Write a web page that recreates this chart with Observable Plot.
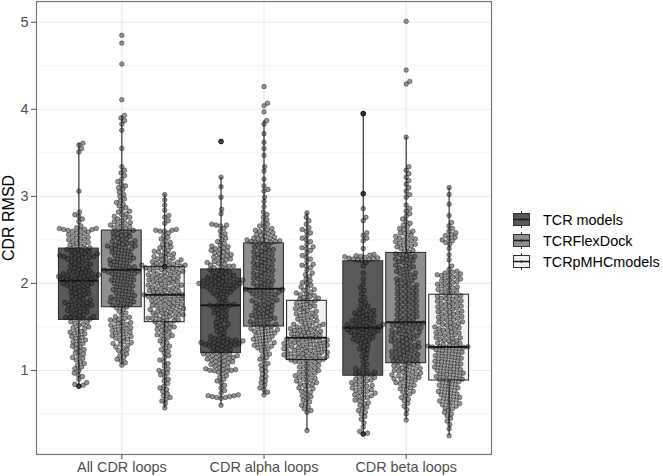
<!DOCTYPE html>
<html>
<head>
<meta charset="utf-8">
<script src="https://cdn.jsdelivr.net/npm/d3@7"></script>
<script src="https://cdn.jsdelivr.net/npm/@observablehq/plot@0.6"></script>
<style>
  html, body { margin: 0; padding: 0; background: #fff; }
  #wrap { position: relative; width: 663px; height: 476px; font-family: "Liberation Sans", Arial, sans-serif; }
  #ytitle { position: absolute; left: 9px; top: 218px; transform: translate(-50%, -50%) rotate(-90deg); font-size: 16px; color: #000; white-space: nowrap; }
  #legend { position: absolute; left: 512px; top: 209px; font-size: 14.4px; color: #000; }
  .lrow { display: flex; align-items: center; height: 21px; }
  .lrow svg { margin-right: 12px; }
</style>
</head>
<body>
<div id="wrap"><div id="ytitle">CDR RMSD</div><div id="legend"></div></div>
<script>
// ---------- data ----------
const groups = ["All CDR loops", "CDR alpha loops", "CDR beta loops"];
const seriesNames = ["TCR models", "TCRFlexDock", "TCRpMHCmodels"];
const yTicks = [1, 2, 3, 4, 5];
const yMinorTicks = [0.5, 1.5, 2.5, 3.5, 4.5];

// box statistics per group: [lower whisker, Q1, median, Q3, upper whisker]
const statsTcrModels   = [[0.82, 1.58, 2.03, 2.40, 3.61], [0.60, 1.20, 1.75, 2.16, 3.22], [0.27, 0.94, 1.49, 2.255, 3.95]];
const statsFlexDock    = [[1.06, 1.727, 2.156, 2.607, 3.93], [0.72, 1.505, 1.94, 2.46, 3.87], [0.43, 1.084, 1.555, 2.35, 3.68]];
const statsPMHCmodels  = [[0.567, 1.555, 1.87, 2.19, 3.02], [0.31, 1.12, 1.375, 1.80, 2.81], [0.25, 0.885, 1.27, 1.87, 3.10]];

// individual RMSD values (beeswarm points)
const allTcrModels = [3.61,3.59,3.55,3.51,3.06,2.82,2.79,2.77,2.74,2.71,2.66,2.64,2.63,2.63,2.622,2.62,2.618,2.61,2.61,2.60,2.59,2.58,2.57,2.56,2.55,2.54,2.53,2.52,2.51,2.50,2.49,2.48,2.47,2.46,2.45,2.44,2.43,2.42,2.41,2.40,
2.04,2.04,2.05,2.05,2.06,2.06,2.07,2.07,2.08,2.08,2.09,2.09,2.10,2.10,2.11,2.11,2.12,2.13,2.13,2.14,2.15,2.16,2.17,2.18,2.19,2.20,2.21,2.22,2.23,2.24,2.25,2.26,2.27,2.28,2.29,2.30,2.30,2.31,2.31,2.32,2.32,2.33,2.34,2.34,2.35,2.36,2.37,2.38,2.39,2.39,
1.59,1.59,1.60,1.61,1.61,1.62,1.63,1.64,1.65,1.66,1.67,1.68,1.69,1.70,1.71,1.72,1.73,1.74,1.75,1.75,1.76,1.77,1.78,1.78,1.79,1.80,1.81,1.82,1.84,1.85,1.86,1.87,1.88,1.89,1.90,1.91,1.92,1.93,1.94,1.95,1.96,1.97,1.98,1.98,1.99,2.00,2.00,2.01,2.02,2.02,
0.82,0.82,0.82,0.83,0.84,0.86,0.90,0.93,0.95,0.97,1.00,1.02,1.04,1.06,1.08,1.10,1.12,1.14,1.15,1.17,1.19,1.20,1.22,1.24,1.25,1.27,1.28,1.30,1.31,1.33,1.34,1.35,1.37,1.38,1.39,1.41,1.42,1.43,1.44,1.45,1.47,1.48,1.49,1.50,1.52,1.53,1.54,1.55,1.56,1.58];
const allFlexDock = [4.85,4.76,4.52,4.11,3.93,3.90,3.87,3.83,3.76,3.55,3.34,3.30,3.27,3.24,3.20,3.17,3.14,3.12,3.10,3.08,3.05,3.02,3.00,2.97,2.95,2.93,2.91,2.89,2.87,2.85,2.83,2.82,2.80,2.79,2.77,2.76,2.75,2.74,2.72,2.71,2.70,2.69,2.68,2.67,2.66,2.65,2.64,2.63,2.62,2.61,
2.16,2.17,2.18,2.19,2.19,2.20,2.21,2.22,2.23,2.24,2.25,2.26,2.27,2.27,2.28,2.29,2.30,2.31,2.32,2.33,2.34,2.35,2.36,2.37,2.38,2.39,2.40,2.41,2.41,2.42,2.43,2.43,2.44,2.45,2.46,2.46,2.47,2.48,2.49,2.50,2.51,2.52,2.53,2.54,2.55,2.56,2.57,2.58,2.59,2.60,
1.73,1.74,1.75,1.76,1.77,1.78,1.79,1.79,1.80,1.81,1.82,1.83,1.84,1.84,1.85,1.86,1.87,1.88,1.89,1.90,1.91,1.92,1.93,1.94,1.95,1.96,1.97,1.98,1.99,2.00,2.01,2.02,2.03,2.04,2.04,2.05,2.06,2.07,2.08,2.09,2.10,2.11,2.11,2.12,2.13,2.13,2.14,2.14,2.15,2.15,
1.06,1.09,1.11,1.13,1.15,1.17,1.19,1.21,1.23,1.24,1.26,1.27,1.29,1.30,1.31,1.32,1.33,1.35,1.36,1.37,1.38,1.39,1.40,1.41,1.42,1.43,1.44,1.45,1.46,1.47,1.48,1.49,1.50,1.51,1.52,1.53,1.54,1.55,1.56,1.57,1.58,1.59,1.60,1.61,1.62,1.64,1.66,1.68,1.70,1.72];
const allPMHCmodels = [3.02,2.96,2.90,2.84,2.78,2.76,2.72,2.69,2.62,2.61,2.61,2.60,2.60,2.58,2.55,2.53,2.51,2.49,2.47,2.45,2.44,2.42,2.41,2.40,2.38,2.37,2.36,2.35,2.34,2.33,2.32,2.31,2.30,2.29,2.28,2.27,2.27,2.26,2.25,2.24,2.24,2.23,2.22,2.22,2.21,2.21,2.205,2.20,2.198,2.19,
1.88,1.88,1.89,1.90,1.90,1.91,1.92,1.92,1.93,1.94,1.94,1.95,1.96,1.96,1.97,1.98,1.98,1.99,2.00,2.00,2.01,2.02,2.02,2.03,2.04,2.04,2.05,2.06,2.06,2.07,2.08,2.08,2.09,2.10,2.10,2.11,2.12,2.12,2.13,2.14,2.14,2.15,2.16,2.16,2.17,2.17,2.18,2.18,2.19,2.19,
1.56,1.56,1.57,1.58,1.58,1.59,1.60,1.60,1.61,1.62,1.62,1.63,1.64,1.64,1.65,1.66,1.66,1.67,1.68,1.68,1.69,1.70,1.70,1.71,1.72,1.72,1.73,1.74,1.74,1.75,1.76,1.76,1.77,1.78,1.78,1.79,1.80,1.80,1.81,1.82,1.82,1.83,1.84,1.84,1.85,1.85,1.86,1.86,1.87,1.87,
0.57,0.62,0.65,0.67,0.69,0.71,0.73,0.76,0.78,0.80,0.82,0.85,0.88,0.90,0.93,0.95,0.97,0.99,1.00,1.02,1.05,1.08,1.10,1.12,1.15,1.17,1.20,1.22,1.24,1.26,1.28,1.30,1.32,1.34,1.36,1.38,1.40,1.40,1.41,1.43,1.44,1.46,1.47,1.48,1.49,1.50,1.51,1.52,1.53,1.54];
const alphaTcrModels = [3.63,3.63,3.63,3.22,3.11,2.99,2.85,2.80,2.68,2.67,2.67,2.66,2.63,2.60,2.57,2.55,2.52,2.50,2.48,2.46,2.44,2.43,2.42,2.41,2.40,2.39,2.38,2.37,2.36,2.35,2.34,2.33,2.32,2.31,2.30,2.29,2.28,2.27,2.26,2.25,2.24,2.23,2.22,2.21,2.20,2.20,2.19,2.18,2.17,2.16,
1.752,1.75,1.748,1.76,1.78,1.80,1.82,1.84,1.86,1.87,1.88,1.89,1.90,1.91,1.92,1.93,1.94,1.94,1.95,1.96,1.96,1.97,1.97,1.98,1.98,1.99,1.99,2.00,2.00,2.01,2.01,2.02,2.02,2.03,2.03,2.04,2.04,2.05,2.05,2.06,2.07,2.07,2.08,2.09,2.10,2.11,2.12,2.13,2.14,2.15,
1.20,1.21,1.22,1.23,1.24,1.25,1.26,1.27,1.28,1.28,1.29,1.29,1.30,1.30,1.31,1.31,1.32,1.32,1.33,1.33,1.34,1.34,1.35,1.35,1.36,1.37,1.38,1.39,1.41,1.43,1.45,1.47,1.49,1.50,1.52,1.53,1.55,1.57,1.58,1.60,1.62,1.63,1.65,1.66,1.68,1.69,1.70,1.72,1.73,1.74,
0.60,0.68,0.69,0.69,0.70,0.70,0.71,0.71,0.72,0.74,0.77,0.80,0.83,0.86,0.88,0.90,0.92,0.94,0.96,0.98,0.99,1.003,1.00,0.997,1.01,1.01,1.02,1.03,1.04,1.05,1.06,1.07,1.08,1.09,1.10,1.10,1.11,1.12,1.13,1.13,1.14,1.15,1.15,1.16,1.17,1.17,1.18,1.18,1.19,1.19];
const alphaFlexDock = [4.26,4.07,4.04,3.97,3.87,3.83,3.72,3.62,3.55,3.47,3.34,3.29,3.20,3.12,3.08,3.06,2.99,2.94,2.88,2.82,2.79,2.76,2.73,2.70,2.68,2.66,2.65,2.63,2.62,2.61,2.60,2.59,2.58,2.57,2.56,2.55,2.54,2.53,2.52,2.52,2.51,2.50,2.50,2.49,2.49,2.48,2.48,2.47,2.47,2.46,
1.95,1.96,1.97,1.98,1.99,2.00,2.01,2.02,2.03,2.04,2.05,2.06,2.07,2.08,2.09,2.10,2.11,2.12,2.13,2.14,2.15,2.16,2.17,2.18,2.19,2.20,2.21,2.22,2.23,2.24,2.25,2.26,2.27,2.28,2.29,2.30,2.31,2.32,2.33,2.34,2.35,2.36,2.37,2.38,2.39,2.40,2.41,2.42,2.43,2.45,
1.51,1.52,1.53,1.53,1.54,1.55,1.56,1.57,1.58,1.59,1.60,1.61,1.62,1.62,1.63,1.64,1.65,1.66,1.67,1.68,1.69,1.70,1.71,1.72,1.73,1.74,1.75,1.76,1.77,1.78,1.79,1.80,1.80,1.81,1.82,1.83,1.84,1.85,1.86,1.87,1.88,1.88,1.89,1.90,1.91,1.91,1.92,1.92,1.93,1.93,
0.72,0.75,0.78,0.80,0.83,0.86,0.88,0.91,0.93,0.96,0.99,1.01,1.04,1.06,1.08,1.11,1.13,1.15,1.17,1.19,1.21,1.23,1.25,1.26,1.27,1.28,1.29,1.30,1.31,1.32,1.33,1.34,1.35,1.36,1.37,1.38,1.39,1.40,1.41,1.42,1.43,1.44,1.45,1.45,1.46,1.47,1.48,1.48,1.49,1.50];
const alphaPMHCmodels = [2.81,2.76,2.72,2.68,2.64,2.62,2.60,2.58,2.55,2.52,2.50,2.48,2.45,2.42,2.41,2.40,2.38,2.35,2.32,2.30,2.28,2.25,2.22,2.21,2.20,2.18,2.15,2.12,2.10,2.08,2.05,2.03,2.01,2.00,1.98,1.96,1.95,1.93,1.92,1.90,1.89,1.88,1.87,1.86,1.85,1.84,1.83,1.82,1.81,1.80,
1.38,1.38,1.39,1.40,1.40,1.41,1.42,1.42,1.43,1.44,1.44,1.45,1.46,1.46,1.47,1.48,1.48,1.49,1.50,1.50,1.51,1.52,1.53,1.53,1.54,1.55,1.56,1.57,1.58,1.59,1.60,1.61,1.62,1.63,1.64,1.65,1.66,1.67,1.68,1.69,1.70,1.71,1.72,1.73,1.74,1.75,1.76,1.77,1.78,1.79,
1.12,1.13,1.13,1.14,1.14,1.15,1.15,1.16,1.16,1.17,1.17,1.18,1.18,1.19,1.19,1.20,1.20,1.21,1.21,1.22,1.22,1.23,1.23,1.24,1.24,1.25,1.25,1.26,1.26,1.27,1.27,1.28,1.28,1.29,1.29,1.30,1.30,1.31,1.31,1.32,1.32,1.33,1.33,1.34,1.34,1.35,1.35,1.36,1.36,1.37,
0.31,0.52,0.54,0.56,0.58,0.60,0.62,0.64,0.66,0.68,0.70,0.71,0.73,0.75,0.76,0.78,0.79,0.80,0.82,0.83,0.84,0.85,0.86,0.87,0.88,0.89,0.90,0.91,0.92,0.93,0.94,0.95,0.96,0.97,0.98,0.99,1.00,1.01,1.02,1.03,1.04,1.05,1.06,1.07,1.08,1.09,1.10,1.10,1.11,1.11];
const betaTcrModels = [3.95,3.95,3.95,3.95,3.03,3.03,3.03,2.86,2.76,2.72,2.58,2.55,2.52,2.49,2.40,2.335,2.325,2.318,2.31,2.305,2.30,2.295,2.29,2.285,2.28,2.275,2.27,2.262,
2.24,2.20,2.12,2.05,1.99,1.95,1.92,1.88,1.84,1.81,1.78,1.76,1.74,1.72,1.70,1.69,1.68,1.67,1.66,1.65,1.64,1.63,1.62,1.61,1.60,1.59,1.58,1.57,1.56,1.55,1.545,1.54,1.53,1.525,1.52,1.51,1.505,1.50,1.495,1.49,
1.485,1.48,1.47,1.46,1.455,1.45,1.44,1.435,1.43,1.42,1.41,1.40,1.39,1.38,1.37,1.36,1.35,1.34,1.33,1.31,1.29,1.27,1.25,1.24,1.22,1.19,1.16,1.14,1.10,1.07,1.04,1.02,1.00,0.99,0.98,0.97,0.96,0.95,
0.94,0.93,0.92,0.91,0.90,0.89,0.88,0.87,0.86,0.85,0.84,0.83,0.82,0.81,0.80,0.79,0.78,0.77,0.76,0.75,0.74,0.73,0.72,0.71,0.70,0.69,0.68,0.66,0.65,0.63,0.62,0.60,0.58,0.56,0.54,0.52,0.50,0.47,0.44,0.40,0.35,0.30,0.28,0.27,0.27,0.27];
const betaFlexDock = [5.01,4.45,4.32,4.29,3.68,3.34,3.30,3.26,3.22,3.18,3.14,3.10,3.06,3.02,2.99,2.90,2.86,2.83,2.80,2.77,2.74,2.71,2.69,2.67,2.65,2.63,2.62,2.60,2.59,2.58,2.57,2.55,2.54,2.53,2.52,2.51,2.50,2.49,2.48,2.47,2.46,2.45,2.44,2.43,2.42,2.41,2.40,2.38,2.37,2.36,
1.56,1.575,1.58,1.59,1.605,1.61,1.62,1.635,1.64,1.65,1.665,1.67,1.68,1.695,1.70,1.71,1.725,1.73,1.74,1.755,1.76,1.77,1.785,1.79,1.80,1.815,1.82,1.83,1.845,1.85,1.86,1.875,1.88,1.89,1.905,1.91,1.92,1.935,1.94,1.95,1.965,1.97,1.98,1.995,2.00,2.02,2.03,2.04,2.05,2.06,2.07,2.09,2.10,2.11,2.12,2.13,2.14,2.16,2.17,2.18,2.19,2.20,2.21,2.23,2.24,2.25,2.26,2.27,2.28,2.29,2.30,2.31,2.32,2.33,2.34,
1.09,1.095,1.10,1.11,1.12,1.125,1.13,1.14,1.15,1.155,1.16,1.17,1.18,1.185,1.19,1.20,1.21,1.215,1.22,1.23,1.24,1.245,1.25,1.26,1.27,1.275,1.28,1.29,1.30,1.305,1.31,1.32,1.33,1.335,1.34,1.35,1.36,1.365,1.37,1.38,1.39,1.395,1.40,1.41,1.42,1.425,1.43,1.44,1.45,1.455,1.46,1.47,1.48,1.485,1.49,1.50,1.51,1.515,1.52,1.53,1.535,1.54,1.545,1.55,
0.43,0.50,0.55,0.59,0.62,0.65,0.67,0.69,0.71,0.73,0.75,0.76,0.78,0.79,0.80,0.82,0.83,0.84,0.85,0.86,0.87,0.88,0.89,0.90,0.905,0.91,0.92,0.93,0.935,0.94,0.95,0.96,0.965,0.97,0.98,0.99,0.995,1.00,1.01,1.02,1.025,1.03,1.04,1.05,1.055,1.06,1.07,1.08];
const betaPMHCmodels = [3.10,3.02,2.91,2.78,2.70,2.66,2.63,2.60,2.58,2.56,2.55,2.53,2.52,2.50,2.49,2.47,2.45,2.40,2.33,2.27,2.20,2.16,2.14,2.13,2.12,2.11,2.10,2.10,2.09,2.08,2.07,2.06,2.05,2.04,2.03,2.02,2.01,2.00,1.99,1.98,1.97,1.96,1.95,1.94,1.93,1.92,1.91,1.90,1.89,1.88,
1.28,1.285,1.29,1.30,1.31,1.315,1.32,1.34,1.345,1.35,1.36,1.37,1.375,1.38,1.40,1.405,1.41,1.42,1.43,1.435,1.44,1.46,1.465,1.47,1.48,1.49,1.495,1.50,1.52,1.525,1.53,1.54,1.55,1.555,1.56,1.58,1.585,1.59,1.60,1.61,1.615,1.62,1.64,1.645,1.65,1.66,1.67,1.675,1.68,1.70,1.705,1.71,1.72,1.73,1.735,1.74,1.76,1.765,1.77,1.78,1.79,1.795,1.80,1.82,1.825,1.83,1.84,1.85,1.855,1.86,
0.89,0.895,0.90,0.91,0.92,0.925,0.93,0.94,0.95,0.955,0.96,0.97,0.98,0.985,0.99,1.00,1.01,1.015,1.02,1.03,1.04,1.045,1.05,1.06,1.07,1.075,1.08,1.09,1.10,1.105,1.11,1.12,1.13,1.135,1.14,1.15,1.16,1.165,1.17,1.18,1.19,1.195,1.20,1.21,1.22,1.225,1.23,1.24,1.25,1.255,1.26,1.265,1.272,1.27,1.268,
0.25,0.33,0.38,0.42,0.45,0.48,0.50,0.52,0.54,0.56,0.57,0.59,0.60,0.61,0.62,0.63,0.64,0.65,0.66,0.67,0.68,0.69,0.70,0.71,0.72,0.73,0.74,0.75,0.76,0.77,0.78,0.79,0.80,0.81,0.82,0.83,0.84,0.85,0.86,0.87,0.88];

// ---------- layout / style config ----------
const seriesFill = ["#595959", "#8e8e8e", "#f2f2f2"];
const W = 495, H = 476, mL = 36, mR = 4, mT = 1, mB = 22;
const xDomain = [0.4, 3.6], yDomain = [0.035, 5.238];
const dodge = 0.302, boxW = 0.28;
const dotR = 2.3, swarmD = 4.4;

const statsBySeries = [statsTcrModels, statsFlexDock, statsPMHCmodels];
const valuesBySeries = [
  [allTcrModels, alphaTcrModels, betaTcrModels],
  [allFlexDock, alphaFlexDock, betaFlexDock],
  [allPMHCmodels, alphaPMHCmodels, betaPMHCmodels]
];

const xs = d3.scaleLinear(xDomain, [mL, W - mR]);
const ys = d3.scaleLinear(yDomain, [H - mB, mT]);
const pxPerX = xs(1) - xs(0);

// beeswarm: values repeated 3+ times overplot at one spot, others are swarmed
function swarm(vals, d) {
  const counts = d3.rollup(vals, v => v.length, v => v);
  const uniq = [];
  const seen = new Map();
  vals.forEach((v, i) => {
    if (counts.get(v) >= 3) {
      if (seen.has(v)) return;
      seen.set(v, uniq.length);
    }
    uniq.push({v, y: ys(v), i});
  });
  const pts = uniq.slice().sort((a, b) => a.v - b.v);
  const placed = [];
  for (const p of pts) {
    const near = placed.filter(q => Math.abs(q.y - p.y) < d);
    const cands = [0];
    for (const q of near) {
      const dx = Math.sqrt(d * d - (q.y - p.y) ** 2);
      cands.push(q.x + dx, q.x - dx);
    }
    cands.sort((a, b) => Math.abs(a) - Math.abs(b));
    let x = 0;
    for (const c of cands) {
      if (near.every(q => (q.x - c) ** 2 + (q.y - p.y) ** 2 >= d * d - 1e-6)) { x = c; break; }
    }
    p.x = x; placed.push(p);
  }
  const byIndex = new Map(uniq.map(p => [p.i, p.x]));
  const stackX = new Map([...seen.keys()].map(v => [v, uniq[seen.get(v)].x]));
  return vals.map((v, i) => byIndex.has(i) ? byIndex.get(i) : stackX.get(v));
}

const boxes = [];
const points = [];
seriesNames.forEach((s, si) => {
  groups.forEach((g, gi) => {
    const xc = gi + 1 + (si - 1) * dodge;
    const [lo, q1, med, q3, hi] = statsBySeries[si][gi];
    boxes.push({series: s, group: g, xc, x1: xc - boxW / 2, x2: xc + boxW / 2, lo, q1, med, q3, hi, fill: seriesFill[si]});
    const vals = valuesBySeries[si][gi];
    const offs = swarm(vals, swarmD);
    vals.forEach((v, i) => points.push({series: s, group: g, v, x: xc + offs[i] / pxPerX}));
  });
});

const chart = Plot.plot({
  width: W, height: H,
  marginLeft: mL, marginRight: mR, marginTop: mT, marginBottom: mB,
  style: {fontFamily: "'Liberation Sans', Arial, sans-serif", fontSize: "14.4px", color: "#4d4d4d", background: "white", overflow: "visible"},
  x: {domain: xDomain, ticks: [1, 2, 3], tickFormat: d => groups[d - 1], tickSize: 5, tickPadding: 2, label: null},
  y: {domain: yDomain, ticks: yTicks, tickFormat: d3.format("d"), tickSize: 5, tickPadding: 3, label: null},
  marks: [
    Plot.ruleY(yMinorTicks, {stroke: "#ebebeb", strokeWidth: 0.6}),
    Plot.ruleY(yTicks, {stroke: "#ebebeb", strokeWidth: 1.1}),
    Plot.ruleX([1, 2, 3], {stroke: "#ebebeb", strokeWidth: 1.1}),
    Plot.ruleX(boxes, {x: "xc", y1: "lo", y2: "q1", stroke: "#222", strokeWidth: 1.1}),
    Plot.ruleX(boxes, {x: "xc", y1: "q3", y2: "hi", stroke: "#222", strokeWidth: 1.1}),
    Plot.rect(boxes, {x1: "x1", x2: "x2", y1: "q1", y2: "q3", fill: "fill", stroke: "#333", strokeWidth: 1.1}),
    Plot.ruleY(boxes, {x1: "x1", x2: "x2", y: "med", stroke: "#1a1a1a", strokeWidth: 2}),
    Plot.dot(points, {x: "x", y: "v", r: dotR, fill: "#2a2a2a", fillOpacity: 0.5, stroke: "#000", strokeOpacity: 0.55, strokeWidth: 0.7}),
    Plot.frame({stroke: "#6e6e6e", strokeWidth: 1.1})
  ]
});
chart.style.position = "absolute";
chart.style.left = "0px";
chart.style.top = "0px";
document.getElementById("wrap").prepend(chart);

// legend
const legend = document.getElementById("legend");
seriesNames.forEach((s, si) => {
  const row = document.createElement("div");
  row.className = "lrow";
  const ns = "http://www.w3.org/2000/svg";
  const svg = document.createElementNS(ns, "svg");
  svg.setAttribute("width", 19); svg.setAttribute("height", 19);
  svg.innerHTML =
    `<line x1="9.5" x2="9.5" y1="1" y2="18" stroke="#222" stroke-width="1"/>` +
    `<rect x="1.5" y="3.5" width="16" height="12" fill="${seriesFill[si]}" stroke="#333" stroke-width="1"/>` +
    `<line x1="1.5" x2="17.5" y1="9.5" y2="9.5" stroke="#1a1a1a" stroke-width="1.5"/>` +
    `<circle cx="9.5" cy="9.5" r="1.6" fill="#2a2a2a" fill-opacity="0.6"/>`;
  row.appendChild(svg);
  const t = document.createElement("span");
  t.textContent = s;
  row.appendChild(t);
  legend.appendChild(row);
});
</script>
</body>
</html>
